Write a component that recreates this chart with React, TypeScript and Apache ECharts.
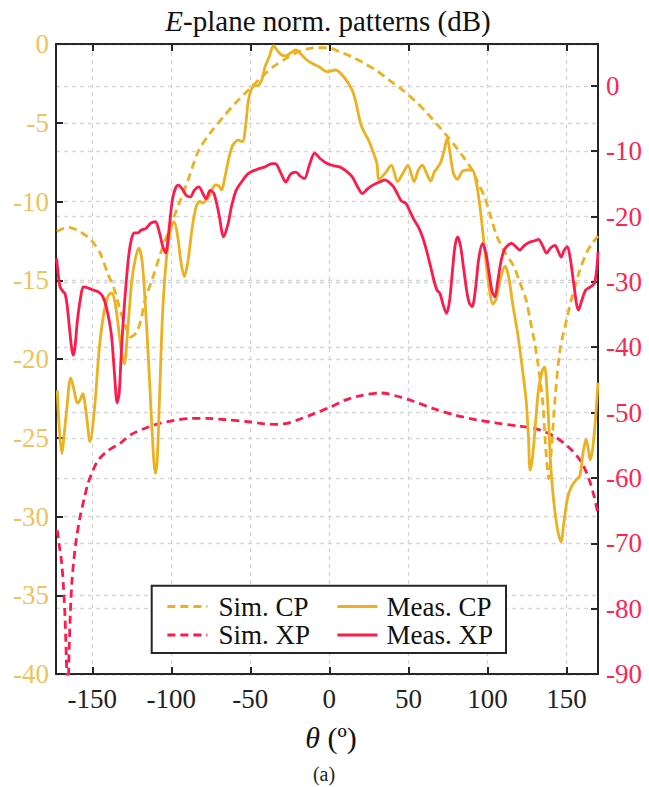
import React, { useEffect, useRef } from 'react';
import * as echarts from 'echarts';

// ---------- data ----------
const THETA_SIM_CP = [-172.5, -168, -165, -160, -155, -150.8, -145, -140.3, -136, -132.4, -129, -125.9, -122, -119, -116.7, -112, -106.2, -98.3, -95.8, -90, -82.6, -75, -66.9, -60, -51.2, -43, -35.4, -27, -19.8, -13, -7.9, 0, 6.5, 14, 22.2, 30, 37.9, 46, 53.6, 62, 69.4, 75, 79.9, 85, 90.3, 94, 98.2, 102, 106, 111, 116.6, 120, 124.5, 127, 129.6, 132, 134.9, 136.8, 138.8, 140.8, 143, 146, 150.6, 154, 158.5, 163, 166, 170];
const SIM_CP = [-11.9, -11.7, -11.64, -11.8, -12.1, -12.44, -13.3, -14.56, -15.6, -16.9, -17.9, -18.6, -18.3, -17.4, -16.25, -14.9, -13.1, -10.97, -10.3, -8.8, -6.73, -5.6, -4.6, -3.8, -2.92, -2.1, -1.44, -0.9, -0.49, -0.3, -0.23, -0.25, -0.49, -0.8, -1.23, -1.7, -2.29, -2.9, -3.56, -4.4, -5.25, -5.9, -6.52, -7.2, -8.0, -8.8, -9.7, -10.9, -12.2, -13.2, -14.1, -15.0, -16.25, -17.5, -18.8, -20.3, -22.6, -25.5, -27.6, -25.3, -22.3, -19.4, -17.3, -15.9, -14.35, -13.2, -12.7, -12.2];

const THETA_MEAS_CP = [-172.2, -169.4, -166.5, -163.7, -161.5, -159.5, -157.8, -156.1, -153.8, -151.5, -148.5, -145.7, -142.9, -140, -137.7, -135.5, -133.5, -131.5, -129.8, -127.5, -125, -122.7, -120.6, -118.5, -116.5, -114.5, -112.5, -111, -110.1, -109, -107.5, -105.5, -103, -100.5, -98.3, -96, -94, -91.8, -89.5, -87, -84.5, -82, -80, -77, -74.5, -72.1, -70, -68.2, -66, -63.5, -61.5, -60.3, -57.8, -55, -53, -51.2, -48.5, -44.6, -42.5, -40.7, -38, -35.4, -33, -30.2, -27.5, -24.9, -21.1, -17.5, -14.5, -10.5, -6.6, -1.4, 3.9, 9.1, 14.4, 17, 19.6, 22, 24.8, 27.5, 30.1, 31.4, 35.3, 39.2, 43.2, 46.5, 49.7, 53.6, 56.3, 58.9, 61.5, 64.1, 66.5, 68.1, 70.5, 72.5, 74.6, 76.5, 78.5, 81, 84, 87, 90.3, 93, 95.5, 98, 100.5, 103.5, 105.5, 108, 111.2, 113.5, 116, 119.2, 122, 124.5, 126, 127, 128.5, 130.5, 132.5, 134.9, 136.2, 138, 140.1, 142.5, 144.7, 146.6, 148.5, 150.8, 153.2, 155.9, 158.5, 160.5, 162.4, 164, 165, 166.5, 168, 169, 170];
const MEAS_CP = [-22.0, -26.0, -23.5, -21.2, -22.0, -22.8, -22.6, -22.2, -23.5, -25.25, -23.0, -19.4, -17.2, -16.0, -15.8, -16.5, -18.0, -19.6, -20.3, -18.0, -15.0, -13.6, -12.96, -13.8, -16.5, -20.0, -24.0, -26.6, -27.26, -26.5, -22.5, -17.0, -13.5, -11.8, -11.28, -12.2, -13.8, -14.77, -13.8, -11.8, -10.4, -10.0, -10.1, -9.8, -9.3, -8.95, -9.0, -9.27, -8.4, -7.2, -6.5, -6.3, -6.1, -6.2, -5.2, -3.56, -2.71, -2.6, -2.2, -1.44, -0.8, -0.1, -0.4, -0.7, -0.75, -0.59, -0.38, -0.7, -1.0, -1.25, -1.44, -1.76, -1.65, -2.08, -2.92, -3.8, -5.0, -5.6, -6.1, -6.8, -7.6, -8.6, -8.2, -7.7, -8.74, -8.2, -7.7, -8.74, -8.0, -7.7, -8.2, -8.7, -8.1, -7.9, -7.5, -6.8, -6.0, -7.0, -8.2, -8.6, -8.1, -8.0, -8.0, -8.8, -10.5, -12.8, -15.0, -16.5, -16.2, -15.0, -14.1, -14.8, -16.5, -18.4, -20.5, -22.6, -25.0, -27.05, -26.3, -24.0, -21.8, -20.7, -20.5, -22.5, -26.8, -29.5, -31.0, -31.6, -30.3, -28.8, -28.1, -27.7, -27.4, -26.0, -25.1, -25.8, -26.4, -25.8, -24.3, -23.0, -21.5];

const THETA_SIM_XP = [-172.2, -170.8, -169.4, -168.2, -167.3, -166.2, -165.6, -164.7, -163, -160.5, -157.8, -155, -152.7, -149.5, -146.4, -140, -132.5, -125, -116.6, -108, -98.3, -88, -77.4, -65, -51.2, -42, -32.8, -26, -19.8, -10, 1.1, 10, 20, 32.7, 43, 53.6, 66, 79.9, 93, 106, 118, 129.6, 137, 142.8, 148, 153.2, 157.5, 161.1, 164.5, 167.5, 170];
const SIM_XP = [-68, -70.5, -73, -77, -81.3, -90, -97, -86.3, -76.1, -70, -66, -63, -60.8, -58.8, -57.3, -55.8, -54.7, -53.3, -52.4, -51.7, -51.2, -50.9, -50.9, -51.1, -51.4, -51.7, -51.8, -51.6, -51.1, -50.2, -49.1, -48.1, -47.4, -47.0, -47.5, -48.3, -49.4, -50.4, -51.1, -51.6, -52.0, -52.4, -53.0, -53.7, -54.6, -55.7, -56.9, -58.3, -60.3, -62.8, -65.5];

const THETA_MEAS_XP = [-172.6, -171.5, -170.4, -168.5, -167.3, -166, -164.5, -163, -162, -161, -159.5, -157.5, -155.7, -153, -150, -146.5, -143.5, -141, -138, -136, -134.3, -133, -131.5, -129.5, -127, -125, -123.3, -121, -119.3, -116, -113, -110.1, -107.5, -105.5, -103.6, -101.5, -99, -95.8, -93, -90.5, -87.9, -85.5, -82.6, -80, -78, -75.5, -73, -70, -66.9, -64, -62, -59, -55, -51.2, -46, -40.7, -36.5, -34.1, -31, -27.6, -24.5, -21.1, -18.5, -15.8, -12.5, -9.3, -5.5, -1.4, 2.5, 6.5, 10.5, 14.4, 17.5, 20.9, 24, 27.5, 31, 35.3, 38, 40.6, 43, 45.5, 48.4, 51, 53.6, 56.3, 58.9, 61.5, 64.1, 66.2, 68.1, 70, 72, 74.1, 76, 78, 79.5, 81.2, 83, 85, 87, 88.5, 90.3, 92.5, 94.5, 96.9, 99, 101, 103, 104.8, 106.5, 108.5, 110.5, 112.5, 115.3, 117.5, 120.5, 123.5, 127, 130, 132.3, 135, 137.5, 140, 142.8, 144.8, 146.7, 148.5, 150.6, 152.5, 154.6, 156.5, 157.7, 159.5, 162.2, 165, 167.7, 169.2, 170];
const MEAS_XP = [-26.4, -29, -30.75, -31.5, -31.8, -33.5, -37, -40.3, -41.2, -40, -36, -32.5, -30.75, -30.9, -31.2, -31.5, -32.2, -34, -38, -44, -48.5, -47, -40, -32.8, -26, -23.2, -22.5, -22.5, -22.1, -21.8, -21.0, -20.8, -22.5, -24.5, -25.6, -22, -17, -15.2, -15.8, -16.8, -17.0, -16, -15.45, -16.5, -17.3, -16.0, -16.5, -19.5, -23.1, -21, -18.5, -16.0, -14.5, -13.4, -12.8, -12.4, -11.9, -11.9, -13.2, -14.7, -13.5, -13.2, -13.8, -14.2, -12.0, -10.3, -11.2, -11.9, -12.2, -12.4, -13.0, -13.9, -15.3, -16.5, -15.8, -15.2, -14.8, -14.4, -14.8, -15.45, -16.5, -17.6, -18.0, -19.2, -20.5, -21.6, -23.1, -25.2, -27.7, -29.8, -31.25, -31.8, -33.5, -34.8, -33, -28, -24.5, -23.1, -24.5, -28, -31.5, -33.2, -33.8, -31, -26.5, -24.1, -25.5, -28.5, -31.5, -32.3, -30, -27, -25.2, -24.5, -24.1, -24.5, -25.1, -24.4, -23.9, -23.7, -23.5, -24.5, -25.6, -24.8, -24.4, -25.3, -26.2, -25.2, -24.6, -26.5, -30.2, -33.5, -34.3, -33, -31.25, -30.8, -30.2, -28.0, -25.4];

const SERIES_NAMES = ['Sim. CP', 'Sim. XP', 'Meas. CP', 'Meas. XP'];
const TITLE = 'E-plane norm. patterns (dB)';
const X_NAME = 'θ (º)';
const CAPTION = '(a)';

// ---------- styles ----------
const ORANGE = '#EDB120';
const ORANGE_LABEL = '#F0C25A';
const RED = '#FF1A4B';
const RED_LABEL = '#FF2452';
const DARK = '#262626';
const FONT = 'Liberation Serif, DejaVu Serif, serif';
const LW = 2.8;
const DASH = [8, 5];

const zip = (xs: number[], ys: number[]) => xs.map((x, i) => [x, ys[i]]);

const axisLine = { show: true, onZero: false, lineStyle: { color: DARK, width: 2 } };
const axisTick = { show: true, inside: true, length: 7, lineStyle: { color: DARK, width: 2 } };
const gridLine = { show: true, lineStyle: { color: '#d6d6d6', type: [4, 4], width: 1.3 } };

const legendBase = {
  orient: 'vertical', top: 592.5, padding: 0, itemGap: 0.5, itemWidth: 40, itemHeight: 14,
  selectedMode: false, z: 20,
  itemStyle: { opacity: 0, borderWidth: 0 },
  lineStyle: { width: LW },
};

export default function App() {
  const ref = useRef<HTMLDivElement>(null);
  useEffect(() => {
    if (!ref.current) return;
    const chart = echarts.init(ref.current, undefined, { renderer: 'svg' });
    const option: any = {
      animation: false,
      backgroundColor: '#ffffff',
      textStyle: { fontFamily: FONT },
      grid: { left: 56, right: 51, top: 44, bottom: 113, containLabel: false },
      xAxis: [
        {
          type: 'value', min: -173, max: 170, splitNumber: 7, position: 'bottom',
          axisLine, axisTick,
          axisLabel: { show: true, showMinLabel: false, showMaxLabel: false, color: '#222', fontFamily: FONT, fontSize: 27, margin: 11 },
          splitLine: gridLine,
        },
        {
          type: 'value', min: -173, max: 170, splitNumber: 7, position: 'top',
          axisLine, axisTick, axisLabel: { show: false }, splitLine: { show: false },
        },
      ],
      yAxis: [
        {
          type: 'value', min: -40, max: 0, interval: 5, position: 'left',
          axisLine, axisTick,
          axisLabel: { color: ORANGE_LABEL, fontFamily: FONT, fontSize: 27, margin: 7 },
          splitLine: gridLine,
        },
        {
          type: 'value', min: -90, max: 6.4, interval: 10, position: 'right',
          axisLine, axisTick,
          axisLabel: { color: RED_LABEL, fontFamily: FONT, fontSize: 27, margin: 8, showMaxLabel: false },
          splitLine: gridLine,
        },
      ],
      legend: [
        {
          ...legendBase,
          data: [SERIES_NAMES[0], SERIES_NAMES[1]], left: 166,
          textStyle: { fontFamily: FONT, fontSize: 27, lineHeight: 28, color: '#111', padding: [0, 0, 0, 6] },
        },
        {
          ...legendBase,
          data: [SERIES_NAMES[2], SERIES_NAMES[3]], left: 336,
          textStyle: { fontFamily: FONT, fontSize: 27, lineHeight: 28, color: '#111', padding: [0, 0, 0, 4] },
        },
      ],
      graphic: [
        {
          type: 'rect', z: 10, shape: { x: 151.7, y: 585.7, width: 354.3, height: 67.3 },
          style: { fill: '#ffffff', stroke: DARK, lineWidth: 2 },
        },
        {
          type: 'text', x: 328, y: 21, z: 10,
          style: {
            text: '{i|' + TITLE.slice(0, 1) + '}{n|' + TITLE.slice(1) + '}',
            align: 'center', verticalAlign: 'middle', fill: '#111',
            rich: {
              i: { fontFamily: FONT, fontSize: 29, fontStyle: 'italic', fill: '#111' },
              n: { fontFamily: FONT, fontSize: 29, fill: '#111' },
            },
          },
        },
        {
          type: 'text', x: 331, y: 737, z: 10,
          style: {
            text: '{i|' + X_NAME.slice(0, 1) + '}{n|' + X_NAME.slice(1) + '}',
            align: 'center', verticalAlign: 'middle', fill: '#111',
            rich: {
              i: { fontFamily: FONT, fontSize: 30, fontStyle: 'italic', fill: '#111' },
              n: { fontFamily: FONT, fontSize: 30, fill: '#111' },
            },
          },
        },
        {
          type: 'text', x: 324, y: 774, z: 10,
          style: { text: CAPTION, align: 'center', verticalAlign: 'middle', fill: '#222', fontFamily: FONT, fontSize: 20 },
        },
      ],
      series: [
        {
          name: SERIES_NAMES[0], type: 'line', xAxisIndex: 0, yAxisIndex: 0, data: zip(THETA_SIM_CP, SIM_CP),
          showSymbol: false, symbol: 'none', smooth: 0.3, clip: true,
          lineStyle: { color: ORANGE, width: LW, type: DASH }, itemStyle: { color: ORANGE },
        },
        {
          name: SERIES_NAMES[1], type: 'line', xAxisIndex: 0, yAxisIndex: 1, data: zip(THETA_SIM_XP, SIM_XP),
          showSymbol: false, symbol: 'none', smooth: 0.3, clip: true,
          lineStyle: { color: RED, width: LW, type: DASH }, itemStyle: { color: RED },
        },
        {
          name: SERIES_NAMES[2], type: 'line', xAxisIndex: 0, yAxisIndex: 0, data: zip(THETA_MEAS_CP, MEAS_CP),
          showSymbol: false, symbol: 'none', smooth: 0.3, clip: true,
          lineStyle: { color: ORANGE, width: LW }, itemStyle: { color: ORANGE },
        },
        {
          name: SERIES_NAMES[3], type: 'line', xAxisIndex: 0, yAxisIndex: 1, data: zip(THETA_MEAS_XP, MEAS_XP),
          showSymbol: false, symbol: 'none', smooth: 0.3, clip: true,
          lineStyle: { color: RED, width: LW }, itemStyle: { color: RED },
        },
      ],
    };
    chart.setOption(option);
    return () => chart.dispose();
  }, []);
  return (
    <div
      ref={ref}
      style={{ position: 'absolute', left: 0, top: 0, width: 649, height: 787, background: '#fff' }}
    />
  );
}
